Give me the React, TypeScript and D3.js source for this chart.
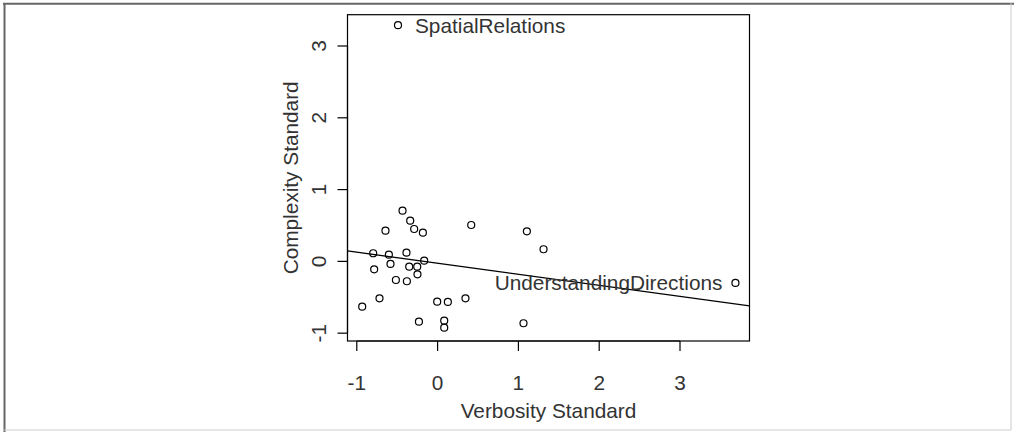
import React from "react";
import * as d3 from "d3";

const verbosity = [-0.49, 3.686, -0.434, -0.339, -0.29, -0.182, -0.645, 0.416, 1.105, 1.311, -0.797, -0.603, -0.385, -0.583, -0.166, -0.351, -0.252, -0.249, -0.785, -0.516, -0.38, -0.719, -0.933, -0.005, 0.127, 0.345, -0.231, 0.082, 0.082, 1.063];
const complexity = [3.29, -0.3, 0.706, 0.567, 0.451, 0.4, 0.428, 0.507, 0.419, 0.169, 0.113, 0.093, 0.121, -0.036, 0.01, -0.074, -0.074, -0.18, -0.11, -0.259, -0.277, -0.514, -0.631, -0.561, -0.565, -0.514, -0.84, -0.826, -0.923, -0.862];
const labelIndex = [0, 1];
const labelText = ["SpatialRelations", "UnderstandingDirections"];
const labelSide = ["right", "left"];
const xTicks = [-1, 0, 1, 2, 3];
const yTicks = [-1, 0, 1, 2, 3];
const fitIntercept = -0.026;
const fitSlope = -0.154;
const xDomain = [-1.115, 3.86];
const yDomain = [-1.109, 3.436];

const FONT = "'Liberation Sans', Arial, sans-serif";
const TXT = "#333";
const FS = 20.8;

export default function App() {
  const left = 347.5, right = 749.5, top = 14.7, bottom = 341;
  const x = d3.scaleLinear().domain(xDomain).range([left, right]);
  const y = d3.scaleLinear().domain(yDomain).range([bottom, top]);
  const line = d3.line<number>().x((d) => x(d)).y((d) => y(fitIntercept + fitSlope * d));
  return (
    <svg width={1014} height={432} style={{ position: "absolute", left: 0, top: 0, background: "#fff" }} fontFamily={FONT}>
      <rect x={0} y={0} width={1014} height={432} fill="#fff" />
      <line x1={4.5} y1={3} x2={4.5} y2={432} stroke="#666" strokeWidth={2} />
      <line x1={3} y1={3.8} x2={1014} y2={3.8} stroke="#666" strokeWidth={2} />
      <line x1={1011} y1={3} x2={1011} y2={430} stroke="#ccc" strokeWidth={1} />
      <line x1={4} y1={430} x2={1011} y2={430} stroke="#ccc" strokeWidth={1} />
      <defs>
        <clipPath id="plotclip">
          <rect x={left} y={top} width={right - left} height={bottom - top} />
        </clipPath>
      </defs>
      <rect x={left} y={top} width={right - left} height={bottom - top} fill="none" stroke="#000" strokeWidth={1.2} />
      <line x1={x(xTicks[0])} x2={x(xTicks[xTicks.length - 1])} y1={bottom} y2={bottom} stroke="#000" strokeWidth={1.2} />
      {xTicks.map((t) => (
        <g key={"xt" + t}>
          <line x1={x(t)} x2={x(t)} y1={bottom} y2={bottom + 10} stroke="#000" strokeWidth={1.2} />
          <text x={x(t)} y={390} textAnchor="middle" fontSize={FS} fill={TXT}>{t}</text>
        </g>
      ))}
      <line x1={left} x2={left} y1={y(yTicks[0])} y2={y(yTicks[yTicks.length - 1])} stroke="#000" strokeWidth={1.2} />
      {yTicks.map((t) => (
        <g key={"yt" + t}>
          <line x1={left - 10} x2={left} y1={y(t)} y2={y(t)} stroke="#000" strokeWidth={1.2} />
          <text transform={`translate(325.5,${y(t)}) rotate(-90)`} textAnchor="middle" fontSize={FS} fill={TXT}>{t}</text>
        </g>
      ))}
      <text x={(left + right) / 2} y={418} textAnchor="middle" fontSize={FS} fill={TXT}>Verbosity Standard</text>
      <text transform={`translate(298,${(top + bottom) / 2}) rotate(-90)`} textAnchor="middle" fontSize={FS} fill={TXT}>Complexity Standard</text>
      <path d={line(xDomain) || ""} fill="none" stroke="#000" strokeWidth={1.3} clipPath="url(#plotclip)" />
      {verbosity.map((v, i) => (
        <circle key={"p" + i} cx={x(v)} cy={y(complexity[i])} r={3.5} fill="none" stroke="#000" strokeWidth={1.2} />
      ))}
      {labelIndex.map((idx, j) => (
        <text
          key={"lab" + j}
          x={x(verbosity[idx]) + (labelSide[j] === "right" ? 17 : -13)}
          y={y(complexity[idx]) + 7.5}
          textAnchor={labelSide[j] === "right" ? "start" : "end"}
          fontSize={FS}
          fill={TXT}
        >
          {labelText[j]}
        </text>
      ))}
    </svg>
  );
}
